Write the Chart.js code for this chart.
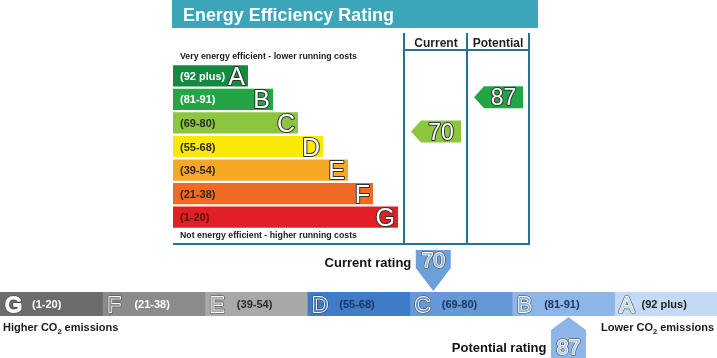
<!DOCTYPE html>
<html>
<head>
<meta charset="utf-8">
<script src="https://cdn.jsdelivr.net/npm/chart.js@4.4.1/dist/chart.umd.min.js"></script>
<style>
  html, body { margin: 0; padding: 0; background: #fff; }
  #wrap { position: relative; width: 717px; height: 358px; overflow: hidden; }
  #wrap canvas { position: absolute; left: 0; top: 0; }
</style>
</head>
<body>
<div id="wrap">
  <canvas id="epc" width="717" height="358"></canvas>
  <canvas id="co2" width="717" height="358"></canvas>
</div>
<script>
// --- Data ---
const bands = ["A", "B", "C", "D", "E", "F", "G"];
const bandRanges = ["(92 plus)", "(81-91)", "(69-80)", "(55-68)", "(39-54)", "(21-38)", "(1-20)"];
const bandLow = [92, 81, 69, 55, 39, 21, 1];
const bandHigh = [100, 91, 80, 68, 54, 38, 20];
const barLengths = [3, 4, 5, 6, 7, 8, 9];
const bandColors = ["#148a3f", "#23a546", "#8cc63f", "#fbe708", "#f6a825", "#ef6b24", "#e21f26"];
const rangeTextColors = ["#ffffff", "#ffffff", "#2a2a2a", "#2a2a2a", "#2a2a2a", "#2a2a2a", "#5a1010"];

const currentRating = 70;
const potentialRating = 87;

// CO2 band runs G (left) to A (right)
const co2Bands = ["G", "F", "E", "D", "C", "B", "A"];
const co2Ranges = ["(1-20)", "(21-38)", "(39-54)", "(55-68)", "(69-80)", "(81-91)", "(92 plus)"];
const co2Colors = ["#6c6c6c", "#8b8b8b", "#a8a8a8", "#3e7cc8", "#6598d6", "#8db5e7", "#c3daf4"];
const co2TextColors = ["#ffffff", "#ffffff", "#2b2b2b", "#1d3560", "#1d3560", "#1d3560", "#222222"];
// marker positions along the band (band units)
const currentMarker = 4.23;
const potentialMarker = 5.55;

const FONT = '"Liberation Sans", Arial, sans-serif';
const LINE = "#22729a";

// --- Helpers ---
function bandOf(score) {
  return bandLow.findIndex((lo, i) => score >= lo && score <= bandHigh[i]);
}

// outline-style letters: dark edge, white ring, coloured inside
function outlined(ctx, text, x, y, size, fill, stroke, align, ring) {
  ctx.save();
  ctx.font = size + "px " + FONT;
  ctx.textAlign = align || "left";
  ctx.lineJoin = "round";
  ctx.lineWidth = ring ? 3 : 2;
  ctx.strokeStyle = stroke;
  ctx.strokeText(text, x, y);
  if (ring) {
    ctx.lineWidth = 1.8;
    ctx.strokeStyle = "#ffffff";
    ctx.strokeText(text, x, y);
  }
  ctx.fillStyle = fill;
  ctx.fillText(text, x, y);
  ctx.restore();
}

function label(ctx, text, x, y, size, color, align, maxW) {
  ctx.save();
  ctx.font = "bold " + size + "px " + FONT;
  ctx.fillStyle = color;
  ctx.textAlign = align || "left";
  if (maxW) ctx.fillText(text, x, y, maxW); else ctx.fillText(text, x, y);
  ctx.restore();
}

// "Higher CO2 emissions" with subscript 2
function co2Label(ctx, before, after, x, y, align) {
  ctx.save();
  ctx.font = "bold 11px " + FONT;
  const w1 = ctx.measureText(before).width;
  const w3 = ctx.measureText(after).width;
  ctx.font = "bold 7.5px " + FONT;
  const w2 = ctx.measureText("2").width;
  let left = align === "right" ? x - (w1 + w2 + w3) : x;
  ctx.fillStyle = "#1a1a1a";
  ctx.textAlign = "left";
  ctx.font = "bold 11px " + FONT;
  ctx.fillText(before, left, y);
  ctx.font = "bold 7.5px " + FONT;
  ctx.fillText("2", left + w1, y + 3);
  ctx.font = "bold 11px " + FONT;
  ctx.fillText(after, left + w1 + w2, y);
  ctx.restore();
}

// --- Top chart decorations ---
const epcDecor = {
  id: "epcDecor",
  afterDraw(chart) {
    const ctx = chart.ctx;
    const meta = chart.getDatasetMeta(0);

    // title bar
    ctx.fillStyle = "#3ba6b9";
    ctx.fillRect(172, 0, 366, 28);
    label(ctx, "Energy Efficiency Rating", 183, 21, 19, "#ffffff", "left", 211);

    // column frame
    ctx.save();
    ctx.strokeStyle = LINE;
    ctx.lineWidth = 2;
    ctx.beginPath();
    [404, 467, 529].forEach(x => { ctx.moveTo(x, 33); ctx.lineTo(x, 244); });
    ctx.moveTo(404, 50); ctx.lineTo(529, 50);
    ctx.moveTo(173, 244); ctx.lineTo(530, 244);
    ctx.stroke();
    ctx.restore();

    label(ctx, "Current", 436, 47, 12, "#1e1e1e", "center", 46);
    label(ctx, "Potential", 498, 47, 12, "#1e1e1e", "center", 56);

    label(ctx, "Very energy efficient - lower running costs", 180, 59, 9, "#1a1a1a", "left", 177);
    label(ctx, "Not energy efficient - higher running costs", 180, 238, 9, "#1a1a1a", "left", 177);

    // band labels
    meta.data.forEach((el, i) => {
      label(ctx, bandRanges[i], 180, el.y + 4, 11, rangeTextColors[i]);
      outlined(ctx, bands[i], el.x - 3, el.y + 9, 25, "#ffffff", "#333333", "right");
    });

    // rating arrows placed inside their band by score
    const arrow = (score, left, right) => {
      const i = bandOf(score);
      const el = meta.data[i];
      const top = el.y - el.height / 2;
      const cy = top + (bandHigh[i] - score) / (bandHigh[i] - bandLow[i]) * el.height;
      ctx.fillStyle = bandColors[i];
      ctx.beginPath();
      ctx.moveTo(left, cy);
      ctx.lineTo(left + 10, cy - 11);
      ctx.lineTo(right, cy - 11);
      ctx.lineTo(right, cy + 11);
      ctx.lineTo(left + 10, cy + 11);
      ctx.closePath();
      ctx.fill();
      outlined(ctx, String(score), (left + 10 + right) / 2, cy + 8, 23, "#ffffff", "#333333", "center");
    };
    arrow(currentRating, 411, 461);
    arrow(potentialRating, 474, 523);
  }
};

new Chart(document.getElementById("epc"), {
  type: "bar",
  data: {
    labels: bands,
    datasets: [{
      data: barLengths,
      backgroundColor: bandColors,
      barPercentage: 0.9,
      categoryPercentage: 1
    }]
  },
  options: {
    indexAxis: "y",
    responsive: false,
    animation: false,
    layout: { padding: { left: 173, right: 319, top: 64, bottom: 129 } },
    plugins: { legend: { display: false }, tooltip: { enabled: false } },
    scales: {
      x: { display: false, min: 0, max: 9 },
      y: { display: false }
    }
  },
  plugins: [epcDecor]
});

// --- CO2 band decorations ---
const co2Decor = {
  id: "co2Decor",
  afterDraw(chart) {
    const ctx = chart.ctx;
    const xs = chart.scales.x;

    co2Bands.forEach((b, i) => {
      const el = chart.getDatasetMeta(i).data[0];
      const left = Math.min(el.base, el.x);
      outlined(ctx, b, left + 5, el.y + 8, 22, i === 0 ? "#ffffff" : co2Colors[i], "#444444", "left", true);
      label(ctx, co2Ranges[i], left + (i === 6 ? 27 : 32), el.y + 4, 11, co2TextColors[i]);
    });

    const el = chart.getDatasetMeta(0).data[0];
    const top = el.y - el.height / 2;
    const bottom = el.y + el.height / 2;

    // current marker (above band, pointing down)
    const cx = xs.getPixelForValue(currentMarker);
    ctx.fillStyle = "#6d9fdb";
    ctx.beginPath();
    ctx.moveTo(cx - 17.5, 250);
    ctx.lineTo(cx + 17.5, 250);
    ctx.lineTo(cx + 17.5, 268);
    ctx.lineTo(cx, top - 1);
    ctx.lineTo(cx - 17.5, 268);
    ctx.closePath();
    ctx.fill();
    outlined(ctx, String(currentRating), cx, 267, 21, "#8fb6e6", "#3a3a3a", "center", true);
    label(ctx, "Current rating", cx - 22, 267, 13, "#111111", "right");

    // potential marker (below band, pointing up)
    const px = xs.getPixelForValue(potentialMarker);
    ctx.fillStyle = "#8db5e7";
    ctx.beginPath();
    ctx.moveTo(px, bottom + 1);
    ctx.lineTo(px + 17.5, 330);
    ctx.lineTo(px + 17.5, 358);
    ctx.lineTo(px - 17.5, 358);
    ctx.lineTo(px - 17.5, 330);
    ctx.closePath();
    ctx.fill();
    outlined(ctx, String(potentialRating), px, 354, 21, "#a9c8ee", "#3a3a3a", "center", true);
    label(ctx, "Potential rating", px - 22, 352, 13, "#111111", "right");

    co2Label(ctx, "Higher CO", " emissions", 3, 331, "left");
    co2Label(ctx, "Lower CO", " emissions", 714, 331, "right");
  }
};

new Chart(document.getElementById("co2"), {
  type: "bar",
  data: {
    labels: [""],
    datasets: co2Bands.map((b, i) => ({
      label: b,
      data: [1],
      backgroundColor: co2Colors[i],
      barPercentage: 1,
      categoryPercentage: 1
    }))
  },
  options: {
    indexAxis: "y",
    responsive: false,
    animation: false,
    layout: { padding: { left: 0, right: 0, top: 292, bottom: 42 } },
    plugins: { legend: { display: false }, tooltip: { enabled: false } },
    scales: {
      x: { display: false, stacked: true, min: 0, max: 7 },
      y: { display: false, stacked: true }
    }
  },
  plugins: [co2Decor]
});
</script>
</body>
</html>
